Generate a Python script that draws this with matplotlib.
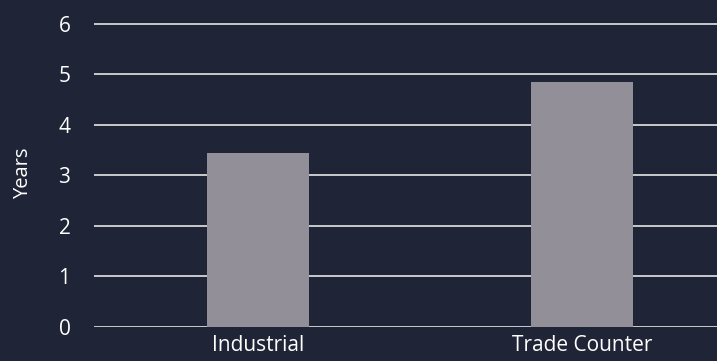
import matplotlib
matplotlib.use("Agg")
import matplotlib.pyplot as plt

categories = ["Industrial", "Trade Counter"]
years = [3.44, 4.85]
yticks = [0, 1, 2, 3, 4, 5, 6]

bg = "#1f2536"
plt.rcParams['font.family'] = ['Open Sans', 'DejaVu Sans']

fig = plt.figure(figsize=(7.17, 3.61), dpi=100, facecolor=bg)
ax = fig.add_axes([94 / 717, 1 - 326.7 / 361, 1 - 94 / 717, (326.7 - 19.0) / 361])
ax.set_facecolor(bg)

x = range(len(categories))
ax.bar(x, years, width=0.315, color="#938f99", zorder=3)

ax.set_xlim(-0.506, 1.417)
ax.set_ylim(0, 6.1)
ax.set_yticks(yticks)
ax.set_xticks(list(x))
ax.set_xticklabels(categories)
ax.grid(axis="y", color="#e6e6e6", linewidth=1.2, zorder=1)
ax.grid(axis="x", visible=False)
for s in ax.spines.values():
    s.set_visible(False)
ax.tick_params(axis="both", length=0, colors="white", labelsize=15)
ax.tick_params(axis="y", pad=17)
ax.tick_params(axis="x", pad=6)
ax.set_ylabel("Years", color="white", fontsize=14.5, labelpad=18)

fig.savefig("out.png", dpi=100, facecolor=bg)
